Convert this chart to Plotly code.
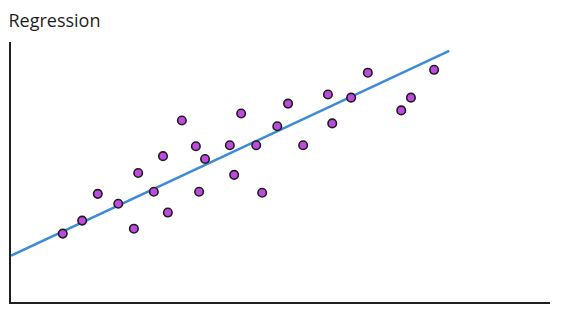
import plotly.graph_objects as go

point_x = [9.6, 13.2, 16.1, 19.9, 22.8, 23.6, 26.5, 28.2, 29.1, 31.7, 34.3, 34.9, 36.0, 40.6,
           41.4, 42.7, 45.5, 46.6, 49.4, 51.4, 54.2, 58.8, 59.6, 63.1, 66.2, 72.4, 74.2, 78.5]
point_y = [26.3, 31.3, 41.6, 37.8, 28.2, 49.6, 42.4, 56.1, 34.4, 69.8, 59.9, 42.4, 55.0, 60.3,
           48.9, 72.5, 60.3, 42.0, 67.6, 76.3, 60.3, 79.8, 68.7, 78.6, 88.2, 73.7, 78.6, 89.3]
fit_x = [0.0, 81.3]
fit_y = [17.8, 96.6]
title_text = "Regression"

fig = go.Figure()
fig.add_trace(go.Scatter(x=fit_x, y=fit_y, mode="lines",
                         line=dict(color="#3f8bd6", width=2.5), hoverinfo="skip"))
fig.add_trace(go.Scatter(x=point_x, y=point_y, mode="markers",
                         marker=dict(size=8.5, color="#be4ae0",
                                     line=dict(color="#1e1e1e", width=1.6))))

fig.update_layout(
    width=562, height=314,
    margin=dict(l=11, r=12, t=42, b=12),
    paper_bgcolor="white", plot_bgcolor="white",
    showlegend=False,
    title=dict(text=title_text, x=0.015, xanchor="left", y=0.935, yanchor="middle",
               font=dict(family="Comic Sans MS, Open Sans, sans-serif", size=18, color="#1e1e1e")),
    xaxis=dict(range=[0, 100], showgrid=False, zeroline=False, showticklabels=False,
               ticks="", showline=True, linecolor="#1e1e1e", linewidth=2, mirror=False),
    yaxis=dict(range=[0, 100], showgrid=False, zeroline=False, showticklabels=False,
               ticks="", showline=True, linecolor="#1e1e1e", linewidth=2, mirror=False),
)

fig.write_html("out.html")
